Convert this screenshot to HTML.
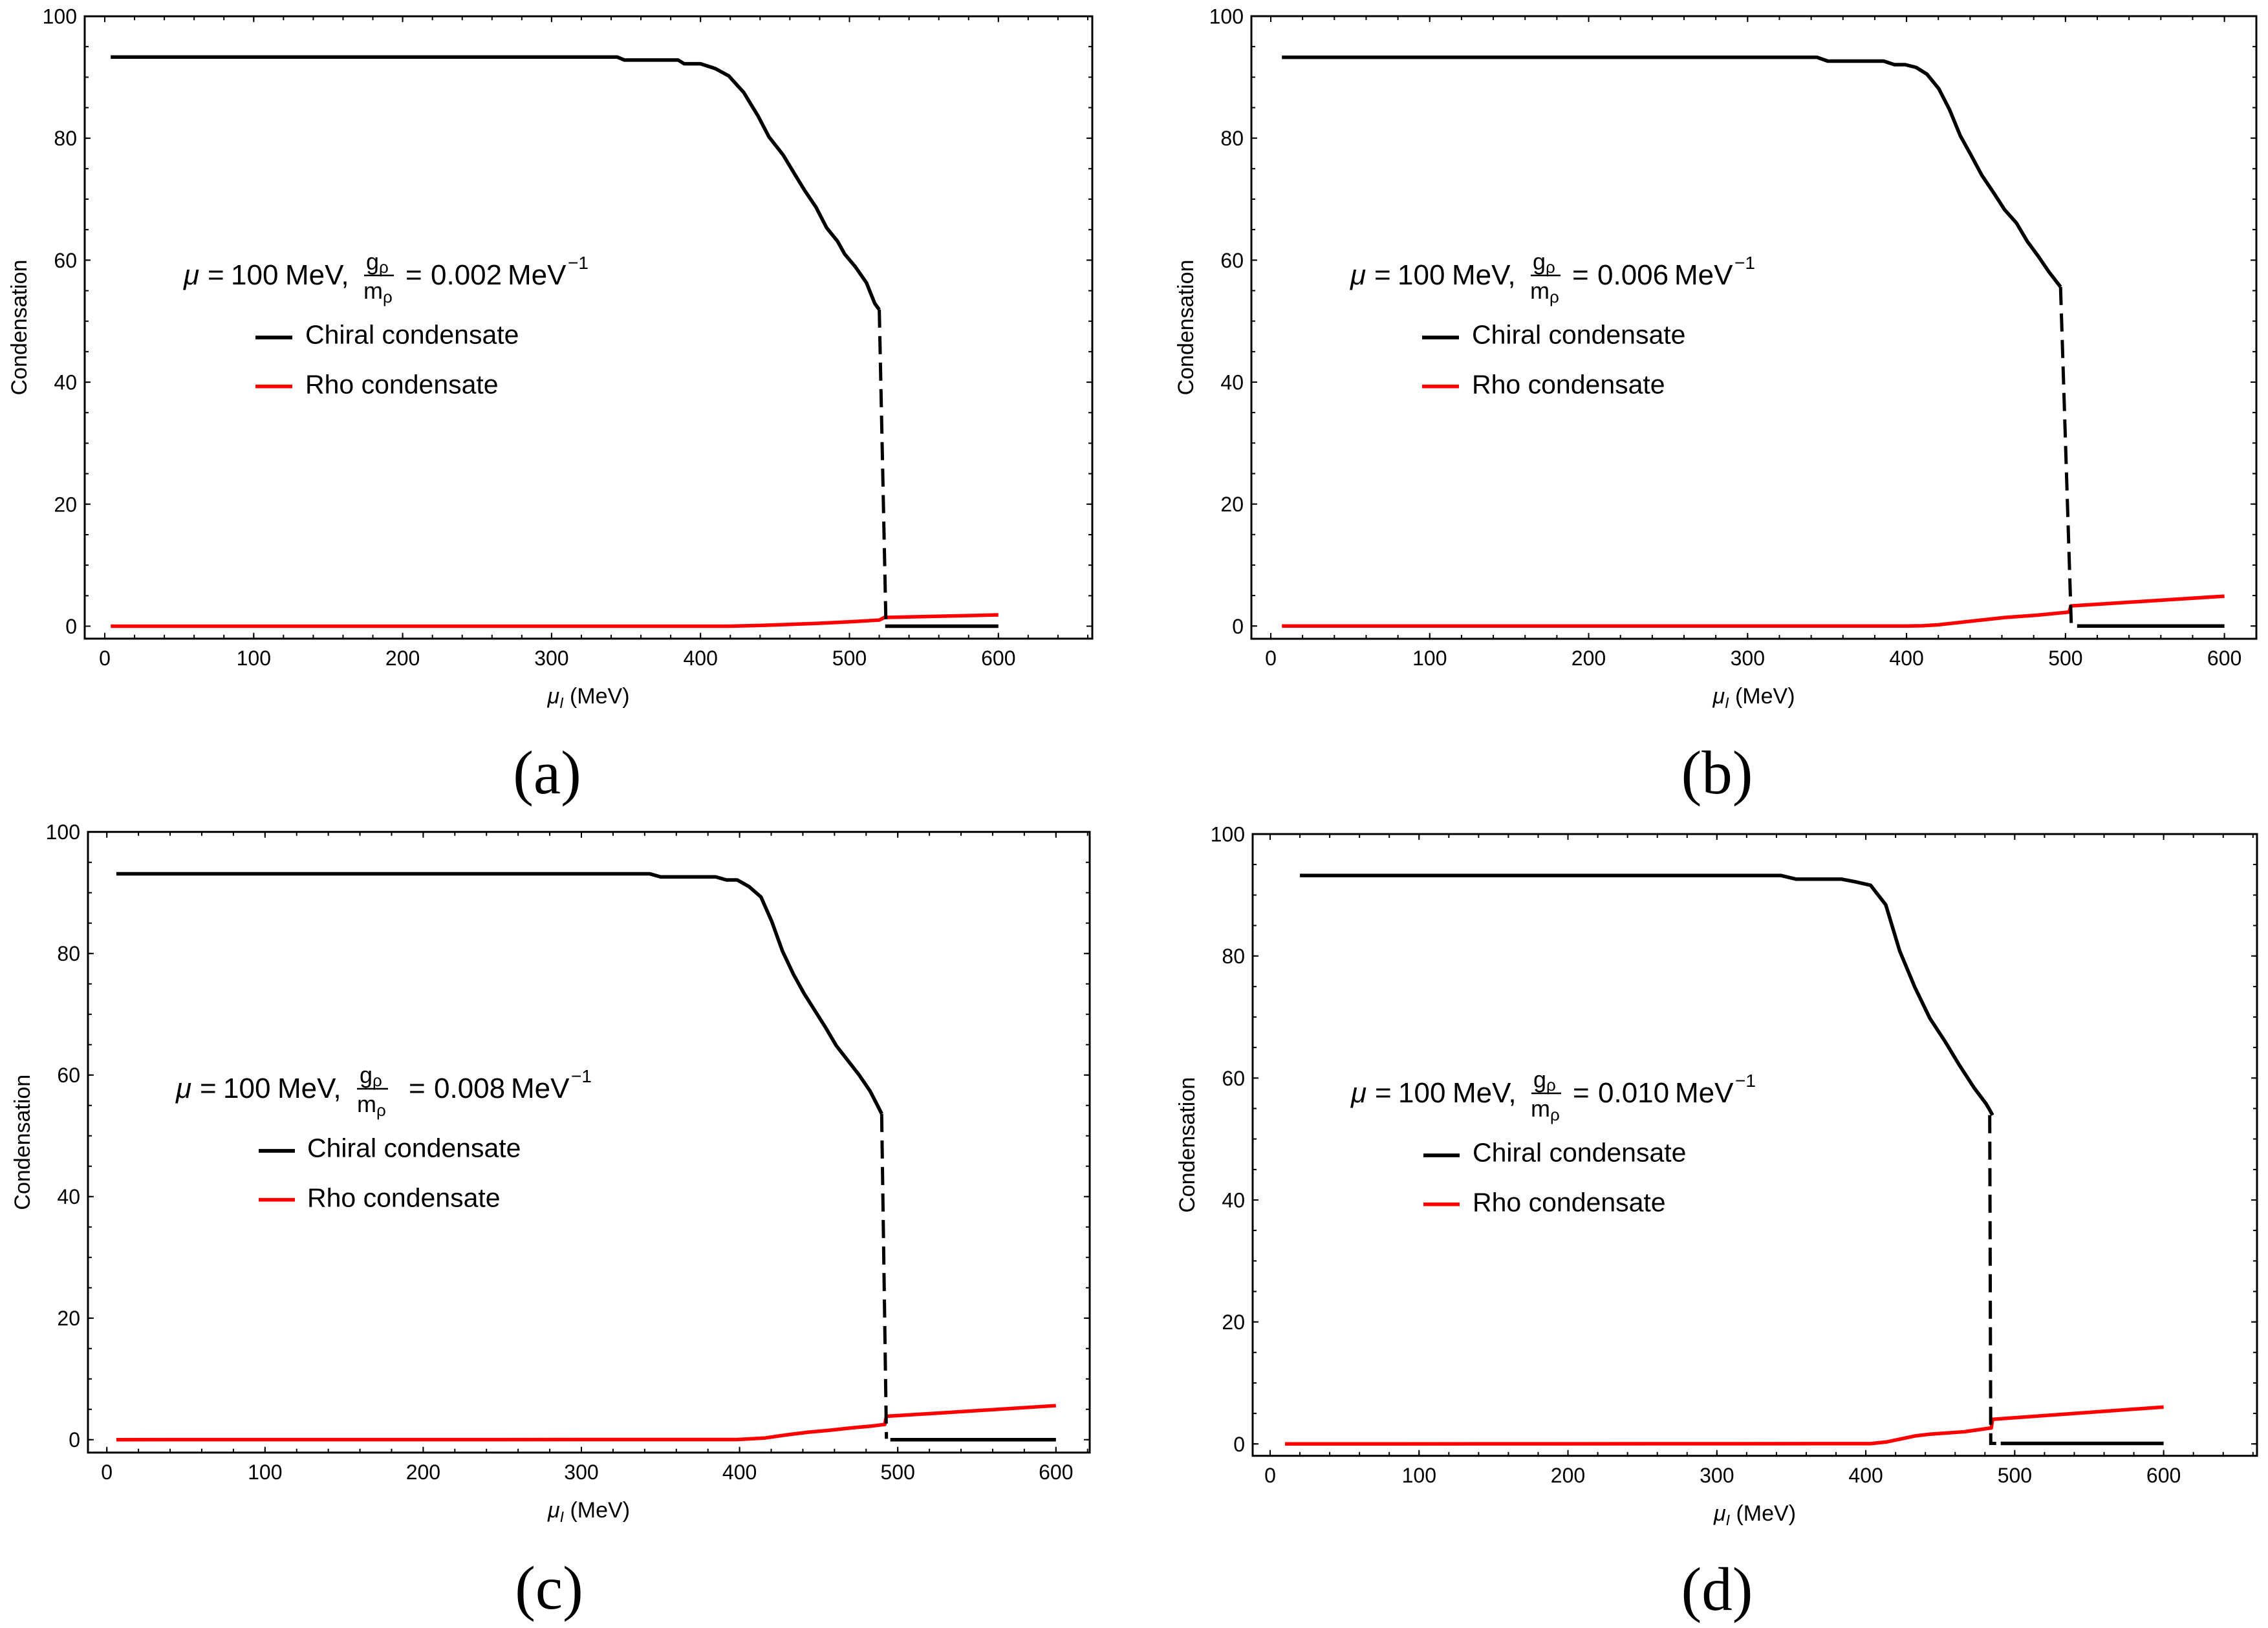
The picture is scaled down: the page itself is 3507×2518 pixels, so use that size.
<!DOCTYPE html>
<html><head><meta charset="utf-8"><style>
html,body{margin:0;padding:0;background:#fff}
svg{display:block}
text{font-family:"Liberation Sans",Arial,sans-serif;fill:#000}
.tk{font-size:32px}
.ax{font-size:34px}
.lg{font-size:41px}
.an{font-size:44px}
.fr{font-size:36px}
.sb{font-family:"Liberation Serif","Times New Roman",serif;font-size:95px}
.cur{fill:none;stroke-width:5.5;stroke-linejoin:round;vector-effect:non-scaling-stroke}
</style></head><body>
<svg width="3507" height="2518" viewBox="0 0 3507 2518" xmlns="http://www.w3.org/2000/svg">
<rect width="3507" height="2518" fill="#fff"/>

<!-- ================= PANEL A ================= -->
<g>
<rect x="131" y="25.2" width="1558" height="962.6" fill="none" stroke="#000" stroke-width="3"/>
<g stroke="#000" fill="none">
<line x1="161" y1="984.8" x2="1689" y2="984.8" stroke-width="6" stroke-dasharray="2 44.06"/>
<line x1="161" y1="983.3" x2="1689" y2="983.3" stroke-width="9" stroke-dasharray="2 228.3"/>
<line x1="161" y1="28.2" x2="1689" y2="28.2" stroke-width="6" stroke-dasharray="2 44.06"/>
<line x1="161" y1="29.7" x2="1689" y2="29.7" stroke-width="9" stroke-dasharray="2 228.3"/>
<line x1="134" y1="969.5" x2="134" y2="25" stroke-width="6" stroke-dasharray="2 45.175"/>
<line x1="135.5" y1="969.5" x2="135.5" y2="25" stroke-width="9" stroke-dasharray="2 186.7"/>
<line x1="1686" y1="969.5" x2="1686" y2="25" stroke-width="6" stroke-dasharray="2 45.175"/>
<line x1="1684.5" y1="969.5" x2="1684.5" y2="25" stroke-width="9" stroke-dasharray="2 186.7"/>
</g>
<g class="tk" text-anchor="middle">
<text x="162" y="1029">0</text><text x="392.3" y="1029">100</text><text x="622.6" y="1029">200</text><text x="852.9" y="1029">300</text><text x="1083.2" y="1029">400</text><text x="1313.5" y="1029">500</text><text x="1543.8" y="1029">600</text>
</g>
<g class="tk" text-anchor="end">
<text x="119" y="980">0</text><text x="119" y="791.3">20</text><text x="119" y="602.6">40</text><text x="119" y="413.9">60</text><text x="119" y="225.2">80</text><text x="119" y="36.5">100</text>
</g>
<text class="ax" text-anchor="middle" x="910" y="1088"><tspan font-style="italic">μ</tspan><tspan font-style="italic" font-size="23" dy="7">I</tspan><tspan dy="-7"> (MeV)</tspan></text>
<text class="ax" text-anchor="middle" transform="translate(41,506.5) rotate(-90)">Condensation</text>
<g transform="matrix(2.303 0 0 -9.435 162 968.5)">
<polyline class="cur" stroke="#ff0000" points="4,0 420,0 440,0.12 457,0.26 480,0.48 500,0.72 520,1.0 523.5,1.43 600,1.85"/>
<polyline class="cur" stroke="#000" points="4,93.3 344,93.3 349,92.8 385,92.8 389,92.2 400,92.2 410,91.4 419,90.2 429,87.5 438.7,83.6 446,80.2 455.6,77.2 463,74.2 470,71.4 477.5,68.7 484.7,65.3 492,63.1 496.8,61 504,58.9 511.4,56.3 517,52.9 520,51.9"/>
<polyline class="cur" stroke="#000" points="524,0 600,0"/>
</g>
<line x1="1359.6" y1="478.8" x2="1369.9" y2="962.8" stroke="#000" stroke-width="5" stroke-dasharray="28 13"/>
<text class="sb" text-anchor="middle" x="846" y="1227">(a)</text>
</g>

<g>
<text class="an" x="284" y="440" font-style="italic">μ</text>
<text class="an" x="321" y="440">=</text>
<text class="an" x="357" y="440">100</text>
<text class="an" x="441" y="440">MeV,</text>
<text class="fr" x="566" y="417">g<tspan font-size="26" dy="5">ρ</tspan></text>
<line x1="563" y1="426" x2="609" y2="426" stroke="#000" stroke-width="2.4"/>
<text class="fr" x="562" y="462">m<tspan font-size="26" dy="6">ρ</tspan></text>
<text class="an" x="627" y="440">=</text>
<text class="an" x="666" y="440">0.002</text>
<text class="an" x="785" y="440">MeV</text>
<text x="878" y="416" font-size="28">−1</text>
<line x1="395" y1="522" x2="452" y2="522" stroke="#000" stroke-width="5.7"/>
<text class="lg" x="472" y="531.7">Chiral condensate</text>
<line x1="395" y1="597.7" x2="452" y2="597.7" stroke="#ff0000" stroke-width="5.7"/>
<text class="lg" x="472" y="608.3">Rho condensate</text>
</g>

<!-- ================= PANEL B ================= -->
<g>
<rect x="1935" y="25" width="1554" height="963" fill="none" stroke="#000" stroke-width="3"/>
<g stroke="#000" fill="none">
<line x1="1964" y1="985" x2="3489" y2="985" stroke-width="6" stroke-dasharray="2 47.154"/>
<line x1="1964" y1="983.5" x2="3489" y2="983.5" stroke-width="9" stroke-dasharray="2 243.77"/>
<line x1="1964" y1="28" x2="3489" y2="28" stroke-width="6" stroke-dasharray="2 47.154"/>
<line x1="1964" y1="29.5" x2="3489" y2="29.5" stroke-width="9" stroke-dasharray="2 243.77"/>
<line x1="1938" y1="969.3" x2="1938" y2="24" stroke-width="6" stroke-dasharray="2 45.165"/>
<line x1="1939.5" y1="969.3" x2="1939.5" y2="24" stroke-width="9" stroke-dasharray="2 186.66"/>
<line x1="3486" y1="969.3" x2="3486" y2="24" stroke-width="6" stroke-dasharray="2 45.165"/>
<line x1="3484.5" y1="969.3" x2="3484.5" y2="24" stroke-width="9" stroke-dasharray="2 186.66"/>
</g>
<g class="tk" text-anchor="middle">
<text x="1965" y="1029">0</text><text x="2210.8" y="1029">100</text><text x="2456.5" y="1029">200</text><text x="2702.3" y="1029">300</text><text x="2948.1" y="1029">400</text><text x="3193.9" y="1029">500</text><text x="3439.6" y="1029">600</text>
</g>
<g class="tk" text-anchor="end">
<text x="1923" y="979.8">0</text><text x="1923" y="791.1">20</text><text x="1923" y="602.5">40</text><text x="1923" y="413.8">60</text><text x="1923" y="225.1">80</text><text x="1923" y="36.5">100</text>
</g>
<text class="ax" text-anchor="middle" x="2712" y="1088"><tspan font-style="italic">μ</tspan><tspan font-style="italic" font-size="23" dy="7">I</tspan><tspan dy="-7"> (MeV)</tspan></text>
<text class="ax" text-anchor="middle" transform="translate(1845,506.5) rotate(-90)">Condensation</text>
<g transform="matrix(2.4577 0 0 -9.433 1965 968.3)">
<polyline class="cur" stroke="#ff0000" points="7,0 400,0 410,0.05 420,0.2 441.6,0.83 461.6,1.4 481.9,1.78 499.5,2.22 502.2,2.3 503.5,3.3 523,3.62 600,4.9"/>
<polyline class="cur" stroke="#000" points="7,93.26 343.6,93.26 350.4,92.63 385.6,92.63 392.4,92.05 399.2,92.05 406,91.6 412.8,90.5 420.3,88.1 427,84.7 433.8,80.4 440.6,77.2 447.4,73.9 454.9,71.0 461.6,68.3 469.1,66.1 475.9,63.1 482.7,60.7 489.5,58.1 496.9,55.6"/>
<polyline class="cur" stroke="#000" points="507.3,0 600,0"/>
</g>
<line x1="3186.2" y1="443.8" x2="3202.9" y2="968.3" stroke="#000" stroke-width="5" stroke-dasharray="28 13"/>
<text class="sb" text-anchor="middle" x="2655" y="1227">(b)</text>
</g>
<g transform="translate(1804,0)">
<text class="an" x="284" y="440" font-style="italic">μ</text>
<text class="an" x="321" y="440">=</text>
<text class="an" x="357" y="440">100</text>
<text class="an" x="441" y="440">MeV,</text>
<text class="fr" x="566" y="417">g<tspan font-size="26" dy="5">ρ</tspan></text>
<line x1="563" y1="426" x2="609" y2="426" stroke="#000" stroke-width="2.4"/>
<text class="fr" x="562" y="462">m<tspan font-size="26" dy="6">ρ</tspan></text>
<text class="an" x="627" y="440">=</text>
<text class="an" x="666" y="440">0.006</text>
<text class="an" x="785" y="440">MeV</text>
<text x="878" y="416" font-size="28">−1</text>
<line x1="395" y1="522" x2="452" y2="522" stroke="#000" stroke-width="5.7"/>
<text class="lg" x="472" y="531.7">Chiral condensate</text>
<line x1="395" y1="597.7" x2="452" y2="597.7" stroke="#ff0000" stroke-width="5.7"/>
<text class="lg" x="472" y="608.3">Rho condensate</text>
</g>

<!-- ================= PANEL C ================= -->
<g>
<rect x="136" y="1286.7" width="1549" height="960" fill="none" stroke="#000" stroke-width="3"/>
<g stroke="#000" fill="none">
<line x1="164.2" y1="2243.7" x2="1685" y2="2243.7" stroke-width="6" stroke-dasharray="2 46.92"/>
<line x1="164.2" y1="2242.2" x2="1685" y2="2242.2" stroke-width="9" stroke-dasharray="2 242.6"/>
<line x1="164.2" y1="1289.7" x2="1685" y2="1289.7" stroke-width="6" stroke-dasharray="2 46.92"/>
<line x1="164.2" y1="1291.2" x2="1685" y2="1291.2" stroke-width="9" stroke-dasharray="2 242.6"/>
<line x1="139" y1="2227.7" x2="139" y2="1286" stroke-width="6" stroke-dasharray="2 45"/>
<line x1="140.5" y1="2227.7" x2="140.5" y2="1286" stroke-width="9" stroke-dasharray="2 186"/>
<line x1="1682" y1="2227.7" x2="1682" y2="1286" stroke-width="6" stroke-dasharray="2 45"/>
<line x1="1680.5" y1="2227.7" x2="1680.5" y2="1286" stroke-width="9" stroke-dasharray="2 186"/>
</g>
<g class="tk" text-anchor="middle">
<text x="165.2" y="2288">0</text><text x="409.8" y="2288">100</text><text x="654.4" y="2288">200</text><text x="899" y="2288">300</text><text x="1143.6" y="2288">400</text><text x="1388.2" y="2288">500</text><text x="1632.8" y="2288">600</text>
</g>
<g class="tk" text-anchor="end">
<text x="124" y="2238.2">0</text><text x="124" y="2050.2">20</text><text x="124" y="1862.2">40</text><text x="124" y="1674.2">60</text><text x="124" y="1486.2">80</text><text x="124" y="1298.2">100</text>
</g>
<text class="ax" text-anchor="middle" x="910.5" y="2347"><tspan font-style="italic">μ</tspan><tspan font-style="italic" font-size="23" dy="7">I</tspan><tspan dy="-7"> (MeV)</tspan></text>
<text class="ax" text-anchor="middle" transform="translate(46,1766.7) rotate(-90)">Condensation</text>
<g transform="matrix(2.446 0 0 -9.40 165.2 2226.7)">
<polyline class="cur" stroke="#ff0000" points="6,0 398.5,0.02 416.2,0.28 429.8,0.79 443.5,1.23 457.1,1.55 470.7,1.94 484.3,2.26 491.8,2.5 492.8,3.85 524.8,4.36 600,5.6"/>
<polyline class="cur" stroke="#000" points="6,93.1 343.3,93.1 350.1,92.6 384.9,92.6 391.7,92.1 398.5,92.1 406,91.0 413.5,89.3 420.3,85.3 427.1,80.4 434,76.6 440.8,73.4 447.6,70.6 454.4,67.8 461.2,64.8 468.7,62.3 475.6,60.0 482.4,57.4 486,55.6 489.9,53.6"/>
<polyline class="cur" stroke="#000" points="495.3,0 600,0"/>
</g>
<line x1="1363.3" y1="1722.9" x2="1370.7" y2="2225.3" stroke="#000" stroke-width="5" stroke-dasharray="28 13"/>
<text class="sb" text-anchor="middle" x="849" y="2488">(c)</text>
</g>
<g transform="translate(0,1258)">
<text class="an" x="272" y="440" font-style="italic">μ</text>
<text class="an" x="309" y="440">=</text>
<text class="an" x="345" y="440">100</text>
<text class="an" x="429" y="440">MeV,</text>
<text class="fr" x="556" y="417">g<tspan font-size="26" dy="5">ρ</tspan></text>
<line x1="552" y1="426" x2="600" y2="426" stroke="#000" stroke-width="2.4"/>
<text class="fr" x="552" y="462">m<tspan font-size="26" dy="6">ρ</tspan></text>
<text class="an" x="632" y="440">=</text>
<text class="an" x="671" y="440">0.008</text>
<text class="an" x="790" y="440">MeV</text>
<text x="883" y="416" font-size="28">−1</text>
<line x1="400" y1="522" x2="456" y2="522" stroke="#000" stroke-width="5.7"/>
<text class="lg" x="475" y="531.7">Chiral condensate</text>
<line x1="400" y1="597.7" x2="456" y2="597.7" stroke="#ff0000" stroke-width="5.7"/>
<text class="lg" x="475" y="608.3">Rho condensate</text>
</g>

<!-- ================= PANEL D ================= -->
<g>
<rect x="1937" y="1290" width="1553" height="961.7" fill="none" stroke="#000" stroke-width="3"/>
<g stroke="#000" fill="none">
<line x1="1963" y1="2248.7" x2="3490" y2="2248.7" stroke-width="6" stroke-dasharray="2 44.054"/>
<line x1="1963" y1="2247.2" x2="3490" y2="2247.2" stroke-width="9" stroke-dasharray="2 228.27"/>
<line x1="1963" y1="1293" x2="3490" y2="1293" stroke-width="6" stroke-dasharray="2 44.054"/>
<line x1="1963" y1="1294.5" x2="3490" y2="1294.5" stroke-width="9" stroke-dasharray="2 228.27"/>
<line x1="1940" y1="2234.3" x2="1940" y2="1289" stroke-width="6" stroke-dasharray="2 45.165"/>
<line x1="1941.5" y1="2234.3" x2="1941.5" y2="1289" stroke-width="9" stroke-dasharray="2 186.66"/>
<line x1="3487" y1="2234.3" x2="3487" y2="1289" stroke-width="6" stroke-dasharray="2 45.165"/>
<line x1="3485.5" y1="2234.3" x2="3485.5" y2="1289" stroke-width="9" stroke-dasharray="2 186.66"/>
</g>
<g class="tk" text-anchor="middle">
<text x="1964" y="2293">0</text><text x="2194.3" y="2293">100</text><text x="2424.5" y="2293">200</text><text x="2654.8" y="2293">300</text><text x="2885.1" y="2293">400</text><text x="3115.4" y="2293">500</text><text x="3345.6" y="2293">600</text>
</g>
<g class="tk" text-anchor="end">
<text x="1925" y="2244.8">0</text><text x="1925" y="2056.1">20</text><text x="1925" y="1867.5">40</text><text x="1925" y="1678.8">60</text><text x="1925" y="1490.2">80</text><text x="1925" y="1301.5">100</text>
</g>
<text class="ax" text-anchor="middle" x="2713.5" y="2352"><tspan font-style="italic">μ</tspan><tspan font-style="italic" font-size="23" dy="7">I</tspan><tspan dy="-7"> (MeV)</tspan></text>
<text class="ax" text-anchor="middle" transform="translate(1847,1770.9) rotate(-90)">Condensation</text>
<g transform="matrix(2.3027 0 0 -9.433 1964 2233.3)">
<polyline class="cur" stroke="#ff0000" points="10,0 403,0.05 414.3,0.34 432.9,1.3 443,1.6 466.2,2.0 484.3,2.63 485.1,4.03 538.7,4.98 600,6.05"/>
<polyline class="cur" stroke="#000" points="20,93.2 343.1,93.2 353.3,92.6 383.7,92.6 392.4,92.2 403.2,91.6 413.4,88.4 422.8,80.8 432.9,74.9 443,69.8 453.2,66.0 462.6,62.2 472.7,58.4 480.7,55.8 482.9,54.9 485.1,53.9"/>
<polyline class="cur" stroke="#000" points="490.6,0.08 600,0.08"/>
</g>
<polyline points="3076.7,1724.7 3078.3,2232.5 3086.7,2232.5" fill="none" stroke="#000" stroke-width="5" stroke-dasharray="28 13"/>
<text class="sb" text-anchor="middle" x="2655" y="2490">(d)</text>
</g>
<g transform="translate(1805,1265)">
<text class="an" x="284" y="440" font-style="italic">μ</text>
<text class="an" x="321" y="440">=</text>
<text class="an" x="357" y="440">100</text>
<text class="an" x="441" y="440">MeV,</text>
<text class="fr" x="566" y="417">g<tspan font-size="26" dy="5">ρ</tspan></text>
<line x1="563" y1="426" x2="609" y2="426" stroke="#000" stroke-width="2.4"/>
<text class="fr" x="562" y="462">m<tspan font-size="26" dy="6">ρ</tspan></text>
<text class="an" x="627" y="440">=</text>
<text class="an" x="666" y="440">0.010</text>
<text class="an" x="785" y="440">MeV</text>
<text x="878" y="416" font-size="28">−1</text>
<line x1="396" y1="522" x2="452" y2="522" stroke="#000" stroke-width="5.7"/>
<text class="lg" x="472" y="531.7">Chiral condensate</text>
<line x1="396" y1="597.7" x2="452" y2="597.7" stroke="#ff0000" stroke-width="5.7"/>
<text class="lg" x="472" y="608.3">Rho condensate</text>
</g>
</svg>
</body></html>
